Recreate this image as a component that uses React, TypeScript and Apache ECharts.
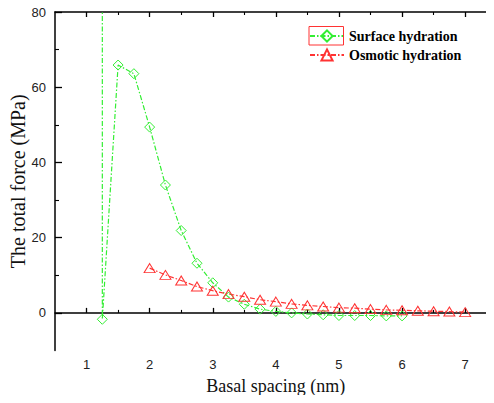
import React, { useEffect, useRef } from "react";
import * as echarts from "echarts";

const surfaceX = [1.25, 1.25, 1.5, 1.75, 2.0, 2.25, 2.5, 2.75, 3.0, 3.25, 3.5, 3.75, 4.0, 4.25, 4.5, 4.75, 5.0, 5.25, 5.5, 5.75, 6.0];
const surfaceY = [400, -1.7, 65.9, 63.6, 49.4, 34.0, 21.9, 13.2, 8.0, 4.2, 2.3, 1.0, 0.4, 0.0, -0.3, -0.5, -0.7, -0.7, -0.7, -0.8, -0.8];
const osmoticX = [2.0, 2.25, 2.5, 2.75, 3.0, 3.25, 3.5, 3.75, 4.0, 4.25, 4.5, 4.75, 5.0, 5.25, 5.5, 5.75, 6.0, 6.25, 6.5, 6.75, 7.0];
const osmoticY = [11.9, 10.1, 8.6, 7.0, 5.9, 5.0, 4.3, 3.5, 3.0, 2.4, 2.0, 1.7, 1.4, 1.25, 1.0, 0.8, 0.7, 0.55, 0.45, 0.35, 0.2];

const xMajor = [1, 2, 3, 4, 5, 6, 7];
const xMinor = [1.5, 2.5, 3.5, 4.5, 5.5, 6.5, 7.5];
const yMajor = [0, 20, 40, 60, 80];
const yMinor = [10, 30, 50, 70];

const GREEN = "#33ee33";
const RED = "#ff3333";
const AXIS = "#000";
const LABEL_FONT = "'Liberation Sans', Arial, sans-serif";
const SERIF = "'Liberation Serif', 'Times New Roman', serif";

export default function App() {
  const ref = useRef<HTMLDivElement>(null);
  useEffect(() => {
    if (!ref.current) return;
    const chart = echarts.init(ref.current, null, { renderer: "svg" });
    const baseX = {
      type: "value",
      min: 0.5,
      max: 7.5,
      splitLine: { show: false },
    };
    const baseY = {
      type: "value",
      min: -10,
      max: 80,
      splitLine: { show: false },
    };
    chart.setOption({
      animation: false,
      backgroundColor: "#fff",
      grid: { left: 55, top: 12, width: 441.7, height: 338.5, outerBoundsMode: "none", containLabel: false },
      xAxis: [
        {
          ...baseX,
          position: "bottom",
          axisLine: { show: true, lineStyle: { color: AXIS, width: 1.5 } },
          axisTick: { show: true, inside: true, length: 5, customValues: xMajor, lineStyle: { color: AXIS, width: 1.3 } },
          axisLabel: { show: true, customValues: xMajor, margin: 7, color: "#222", fontSize: 13, fontFamily: LABEL_FONT },
          name: "Basal spacing (nm)",
          nameLocation: "middle",
          nameGap: 26,
          nameMoveOverlap: false,
          nameTextStyle: { color: "#111", fontSize: 18, fontFamily: SERIF },
        },
        {
          ...baseX,
          position: "bottom",
          axisLine: { show: false },
          axisTick: { show: true, inside: true, length: 3, customValues: xMinor, lineStyle: { color: AXIS, width: 1.1 } },
          axisLabel: { show: false },
        },
        {
          ...baseX,
          position: "top",
          axisLine: { show: true, lineStyle: { color: AXIS, width: 1.5 } },
          axisTick: { show: true, inside: true, length: 5, customValues: xMajor, lineStyle: { color: AXIS, width: 1.3 } },
          axisLabel: { show: false },
        },
        {
          ...baseX,
          position: "top",
          axisLine: { show: false },
          axisTick: { show: true, inside: true, length: 3, customValues: xMinor, lineStyle: { color: AXIS, width: 1.1 } },
          axisLabel: { show: false },
        },
      ],
      yAxis: [
        {
          ...baseY,
          position: "left",
          axisLine: { show: true, lineStyle: { color: AXIS, width: 1.5 } },
          axisTick: { show: true, inside: true, length: 7, customValues: yMajor, lineStyle: { color: AXIS, width: 1.3 } },
          axisLabel: { show: true, customValues: yMajor, margin: 9, color: "#222", fontSize: 13, fontFamily: LABEL_FONT },
          name: "The total force (MPa)",
          nameLocation: "middle",
          nameGap: 27,
          nameMoveOverlap: false,
          nameTextStyle: { color: "#111", fontSize: 20, fontFamily: SERIF },
        },
        {
          ...baseY,
          position: "left",
          axisLine: { show: false },
          axisTick: { show: true, inside: true, length: 4, customValues: yMinor, lineStyle: { color: AXIS, width: 1.1 } },
          axisLabel: { show: false },
        },
      ],
      legend: {
        orient: "vertical",
        left: 309,
        top: 29,
        padding: 0,
        itemWidth: 34,
        itemHeight: 14,
        itemGap: 5,
        textStyle: { color: "#000", fontSize: 14, fontWeight: "bold", fontFamily: SERIF },
        data: ["Surface hydration", "Osmotic hydration"],
      },
      graphic: [
        {
          type: "rect",
          shape: { x: 309, y: 26.5, width: 34.5, height: 18.5 },
          style: { fill: "none", stroke: RED, lineWidth: 1 },
          z: 100,
        },
      ],
      series: [
        {
          name: "Surface hydration",
          type: "line",
          xAxisIndex: 0,
          yAxisIndex: 0,
          clip: true,
          data: surfaceX.map((x, i) => [x, surfaceY[i]]),
          symbol: "diamond",
          symbolSize: 10,
          itemStyle: { color: "rgba(255,255,255,0)", borderColor: GREEN, borderWidth: 1 },
          lineStyle: { color: GREEN, width: 1.2, type: [5, 2, 1.5, 2] },
        },
        {
          name: "Osmotic hydration",
          type: "line",
          xAxisIndex: 0,
          yAxisIndex: 0,
          clip: true,
          data: osmoticX.map((x, i) => [x, osmoticY[i]]),
          symbol: "triangle",
          symbolSize: [11, 9],
          itemStyle: { color: "rgba(255,255,255,0)", borderColor: RED, borderWidth: 1 },
          lineStyle: { color: RED, width: 1.2, type: [5, 2, 1.5, 2] },
        },
      ],
    });
    return () => chart.dispose();
  }, []);
  return <div ref={ref} style={{ width: 494, height: 403, margin: -8 }} />;
}
